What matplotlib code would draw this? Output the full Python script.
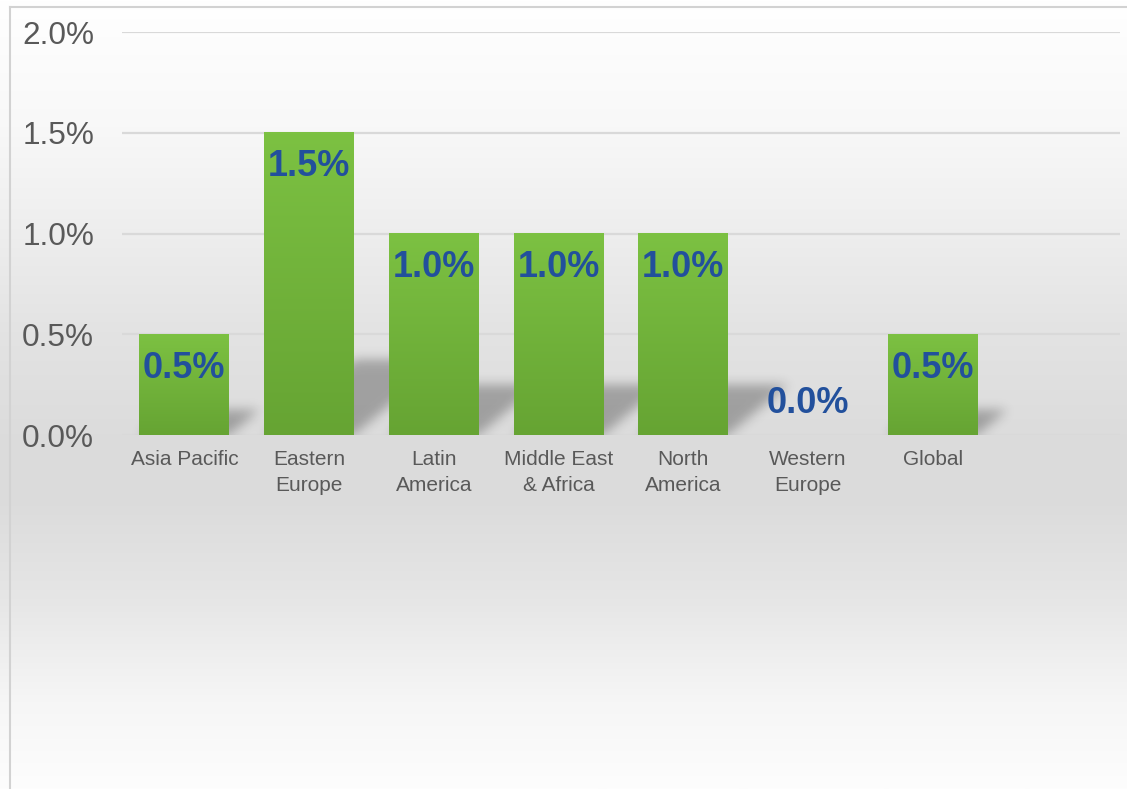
import numpy as np
import matplotlib
matplotlib.use("Agg")
import matplotlib.pyplot as plt
from matplotlib.lines import Line2D

# ---------------- Data ----------------
categories = ["Asia Pacific", "Eastern\nEurope", "Latin\nAmerica", "Middle East\n& Africa",
              "North\nAmerica", "Western\nEurope", "Global"]
values = [0.5, 1.5, 1.0, 1.0, 1.0, 0.0, 0.5]
yticks = [0.0, 0.5, 1.0, 1.5, 2.0]

# ---------------- Style ----------------
W, H, DPI = 1127, 789, 100
TICK_C = "#595959"
LABEL_C = "#22509c"
GRID_C = "#d9d9d9"
BAR_TOP = np.array([124, 193, 66]) / 255
BAR_BOT = np.array([102, 164, 51]) / 255
plt.rcParams["font.family"] = ["Liberation Sans", "DejaVu Sans"]

fig = plt.figure(figsize=(W / DPI, H / DPI), dpi=DPI, facecolor="white")

# background: white -> grey -> white vertical gradient
bg = fig.add_axes([0, 0, 1, 1], zorder=-5)
t = np.linspace(0, 1, 400)
stops_t = [0, 0.16, 0.29, 0.42, 0.55, 0.63, 0.76, 0.89, 1.0]
stops_v = [255, 248, 238, 227, 220, 219, 230, 246, 253]
g = np.interp(t, stops_t, stops_v) / 255
bg.imshow(np.dstack([g, g, g]).reshape(len(g), 1, 3), extent=(0, 1, 0, 1),
          aspect="auto", interpolation="bilinear")
bg.set_axis_off()

# light frame on left/top
fig.add_artist(Line2D([10 / W, 10 / W], [0, 1 - 7 / H], color="#d2d2d2", lw=1.5))
fig.add_artist(Line2D([10 / W, 1], [1 - 7 / H, 1 - 7 / H], color="#d2d2d2", lw=1.5))

# ---------------- Main axes ----------------
x0, x1, y0, y1 = 122, 1120, 435, 32
ax = fig.add_axes([x0 / W, 1 - y0 / H, (x1 - x0) / W, (y0 - y1) / H])
ax.patch.set_visible(False)
for s in ax.spines.values():
    s.set_visible(False)

n_slots = len(categories) + 1
xs = np.arange(len(categories))
bw = 0.72
bars = ax.bar(xs, values, width=bw, color="none", edgecolor="none", zorder=3)

# gradient fill for each bar
grad = np.linspace(0, 1, 100)[:, None]
for p in bars:
    if p.get_height() <= 0:
        continue
    col = BAR_TOP[None, None, :] * (1 - grad[:, :, None]) + BAR_BOT[None, None, :] * grad[:, :, None]
    ax.imshow(col, extent=(p.get_x(), p.get_x() + p.get_width(), 0, p.get_height()),
              aspect="auto", interpolation="bilinear", zorder=3)

# soft skewed floor shadows
px_x = (x1 - x0) / n_slots        # px per x unit
px_y = (y0 - y1) / 2.0            # px per y unit
sh_top = 0.55
nx, ny = int(x1 - x0), int(sh_top * px_y)
gx = np.linspace(-0.5, n_slots - 0.5, nx)
gy = np.linspace(0, sh_top, ny)
XX, YY = np.meshgrid(gx, gy)
mask = np.zeros_like(XX)
for c, v in zip(xs, values):
    if v <= 0:
        continue
    hs = 0.25 * v
    dx = 1.2 * hs * px_y / px_x
    shift = dx * YY / hs
    inside = (YY <= hs) & (XX >= c - bw / 2 + shift) & (XX <= c + bw / 2 + shift)
    mask[inside] = 1.0
sig = 5.5
k = np.arange(-18, 19)
kern = np.exp(-k ** 2 / (2 * sig ** 2)); kern /= kern.sum()
mask = np.apply_along_axis(lambda r: np.convolve(r, kern, mode="same"), 1, mask)
mask = np.apply_along_axis(lambda r: np.convolve(r, kern, mode="same"), 0, mask)
shadow = np.zeros((ny, nx, 4))
shadow[..., 3] = 0.28 * mask
ax.imshow(shadow, extent=(-0.5, n_slots - 0.5, 0, sh_top), origin="lower",
          aspect="auto", interpolation="bilinear", zorder=2)

ax.set_xlim(-0.5, n_slots - 0.5)
ax.set_ylim(0, 2.0)
ax.set_yticks(yticks)
ax.set_yticklabels([f"{v:.1f}%" for v in yticks])
ax.set_xticks(xs)
ax.set_xticklabels(categories, linespacing=1.45)
ax.tick_params(axis="y", length=0, pad=20, labelsize=22.7, labelcolor=TICK_C)
ax.tick_params(axis="x", length=0, pad=11, labelsize=15, labelcolor=TICK_C)
ax.set_axisbelow(True)
ax.yaxis.grid(True, color=GRID_C, lw=1.6, zorder=0)

# data labels
for c, v in zip(xs, values):
    off = -24.5 if v > 0 else 23.0
    ax.annotate(f"{v:.1f}%", (c, v), xytext=(0, off), textcoords="offset points",
                ha="center", va="center", fontsize=26, fontweight="bold",
                color=LABEL_C, zorder=5)

fig.savefig("out.png", dpi=DPI, facecolor=fig.get_facecolor())
